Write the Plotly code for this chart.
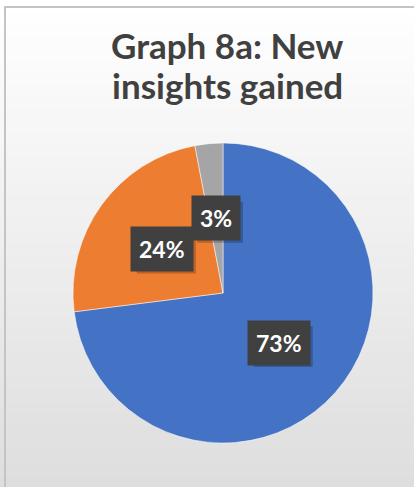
import numpy as np
import plotly.graph_objects as go

# data
labels = ["Yes", "Partly", "No"]
values = [73, 24, 3]
colors = ["#4472C4", "#ED7D31", "#A5A5A5"]
title_lines = ["Graph 8a: New", "insights gained"]

W, H = 414, 487
cx, cy, r = 223, 293, 150  # pie centre / radius in px

fig = go.Figure()

fig.add_trace(go.Pie(
    labels=labels,
    values=values,
    sort=False,
    direction="clockwise",
    rotation=0,
    textinfo="none",
    hoverinfo="label+percent",
    marker=dict(colors=colors, line=dict(color="white", width=0.5)),
    domain=dict(x=[(cx - r) / W, (cx + r) / W], y=[(H - cy - r) / H, (H - cy + r) / H]),
    showlegend=False,
))

# background: faux vertical gradient made from bands
shapes = []
nb = 40
for i in range(nb):
    t = i / (nb - 1)
    g = int(round(255 - t * (255 - 222)))
    shapes.append(dict(type="rect", xref="paper", yref="paper",
                       x0=0, x1=1, y0=1 - (i + 1) / nb, y1=1 - i / nb + 0.001,
                       fillcolor=f"rgb({g},{g},{g})", line=dict(width=0), layer="below"))
# chart frame
shapes.append(dict(type="rect", xref="paper", yref="paper",
                   x0=5 / W, x1=1.01, y0=-0.01, y1=1 - 7 / H,
                   line=dict(color="#c4c4c4", width=2), layer="below"))

annotations = []

# title, one annotation per line
for yy, line in zip([45, 85], title_lines):
    annotations.append(dict(x=227 / W, y=1 - yy / H, xref="paper", yref="paper",
                            xanchor="center", yanchor="middle", text=line, showarrow=False,
                            font=dict(family="Lato", size=35, color="#404040", weight=700)))

# data labels placed at half radius on each slice's mid-angle
total = sum(values)
cum = 0
for v in values:
    mid = (cum + v / 2) / total * 2 * np.pi
    cum += v
    px_ = cx + 0.5 * r * np.sin(mid)
    py_ = cy - 0.5 * r * np.cos(mid)
    txt = f"{round(v / total * 100)}%"
    # soft shadow behind the label box
    bw, bh = 13 * len(txt) + 20, 41
    sx, sy = px_ + 4, py_ + 4
    shapes.append(dict(type="rect", xref="paper", yref="paper", layer="above",
                       x0=(sx - bw / 2) / W, x1=(sx + bw / 2) / W,
                       y0=1 - (sy + bh / 2) / H, y1=1 - (sy - bh / 2) / H,
                       fillcolor="rgba(0,0,0,0.22)", line=dict(width=0)))
    annotations.append(dict(x=px_ / W, y=1 - py_ / H, xref="paper", yref="paper",
                            xanchor="center", yanchor="middle",
                            text=txt, showarrow=False, bgcolor="#404040",
                            borderpad=8, font=dict(family="Lato", size=23, color="white", weight=700)))

fig.update_layout(
    width=W, height=H,
    margin=dict(l=0, r=0, t=0, b=0),
    paper_bgcolor="white",
    shapes=shapes,
    annotations=annotations,
)

fig.write_html("out.html", config={"displayModeBar": False},
               post_script="document.body.style.margin='0';")
